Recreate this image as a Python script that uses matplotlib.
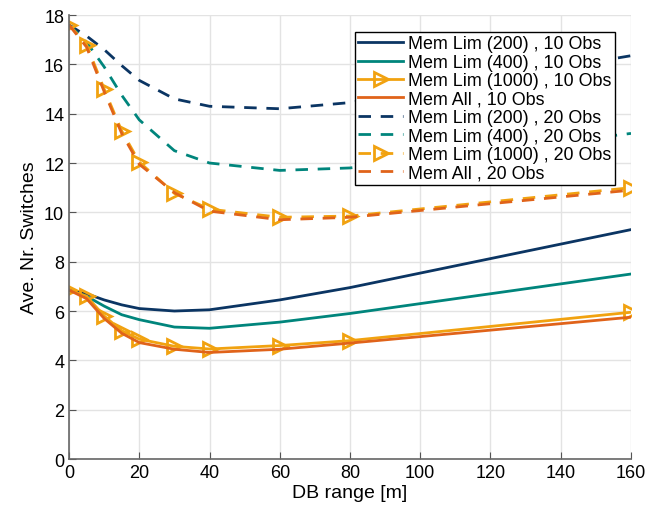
import matplotlib
matplotlib.use("Agg")
import matplotlib.pyplot as plt

x = [0, 5, 10, 15, 20, 30, 40, 60, 80, 160]

lim200_10 = [6.85, 6.7, 6.45, 6.25, 6.1, 6.0, 6.05, 6.45, 6.95, 9.3]
lim400_10 = [6.85, 6.6, 6.2, 5.85, 5.65, 5.35, 5.3, 5.55, 5.9, 7.5]
lim1000_10 = [6.85, 6.6, 5.8, 5.2, 4.86, 4.57, 4.46, 4.6, 4.8, 5.95]
all_10 = [6.85, 6.5, 5.7, 5.1, 4.72, 4.45, 4.32, 4.45, 4.7, 5.75]

lim200_20 = [17.6, 17.15, 16.6, 15.95, 15.35, 14.6, 14.3, 14.2, 14.45, 16.35]
lim400_20 = [17.6, 16.9, 15.9, 14.75, 13.75, 12.5, 12.0, 11.7, 11.8, 13.2]
lim1000_20 = [17.6, 16.8, 15.0, 13.3, 12.04, 10.77, 10.13, 9.8, 9.85, 11.0]
all_20 = [17.6, 16.7, 14.9, 13.2, 11.95, 10.8, 10.05, 9.7, 9.8, 10.9]

labels = ["Mem Lim (200) , 10 Obs", "Mem Lim (400) , 10 Obs", "Mem Lim (1000) , 10 Obs",
          "Mem All , 10 Obs", "Mem Lim (200) , 20 Obs", "Mem Lim (400) , 20 Obs",
          "Mem Lim (1000) , 20 Obs", "Mem All , 20 Obs"]

c_blue = "#0b3563"
c_teal = "#00857c"
c_yel = "#f1a210"
c_org = "#e0631a"

plt.rcParams['font.family'] = ['Liberation Sans', 'DejaVu Sans']

fig = plt.figure(figsize=(6.61, 5.10), dpi=100)
ax = fig.add_axes([0.1044, 0.098, 0.8502, 0.8706])

lw = 2.0
ds = (0, (4.5, 3.5))
mk = dict(marker='>', markersize=10, markerfacecolor='none', markeredgewidth=2)

ax.plot(x, lim200_10, color=c_blue, lw=lw, label=labels[0])
ax.plot(x, lim400_10, color=c_teal, lw=lw, label=labels[1])
ax.plot(x, lim1000_10, color=c_yel, lw=lw, label=labels[2], **mk)
ax.plot(x, all_10, color=c_org, lw=lw, label=labels[3])
ax.plot(x, lim200_20, color=c_blue, lw=lw, ls=ds, label=labels[4])
ax.plot(x, lim400_20, color=c_teal, lw=lw, ls=ds, label=labels[5])
ax.plot(x, lim1000_20, color=c_yel, lw=lw, ls=ds, label=labels[6], **mk)
ax.plot(x, all_20, color=c_org, lw=lw, ls=ds, label=labels[7])

ax.set_xlim(0, 160)
ax.set_ylim(0, 18)
ax.set_xticks(range(0, 161, 20))
ax.set_yticks(range(0, 19, 2))
ax.grid(True, color="#e3e3e3", lw=1)
ax.set_axisbelow(True)
ax.tick_params(direction='in', labelsize=13, length=5, color="#555555")
for s in ['top', 'right']:
    ax.spines[s].set_visible(False)
for s in ['left', 'bottom']:
    ax.spines[s].set_color("#666666")
    ax.spines[s].set_linewidth(1.2)

ax.set_xlabel("DB range [m]", fontsize=14, labelpad=2)
ax.set_ylabel("Ave. Nr. Switches", fontsize=14, labelpad=4)

leg = ax.legend(loc='upper right', bbox_to_anchor=(0.971, 0.962), fontsize=12.9,
                frameon=True, fancybox=False, edgecolor='black', framealpha=1,
                handlelength=2.5, handletextpad=0.25, labelspacing=0.08,
                borderpad=0.2, borderaxespad=0)
leg.get_frame().set_linewidth(1.0)

fig.savefig("out.png", dpi=100)
